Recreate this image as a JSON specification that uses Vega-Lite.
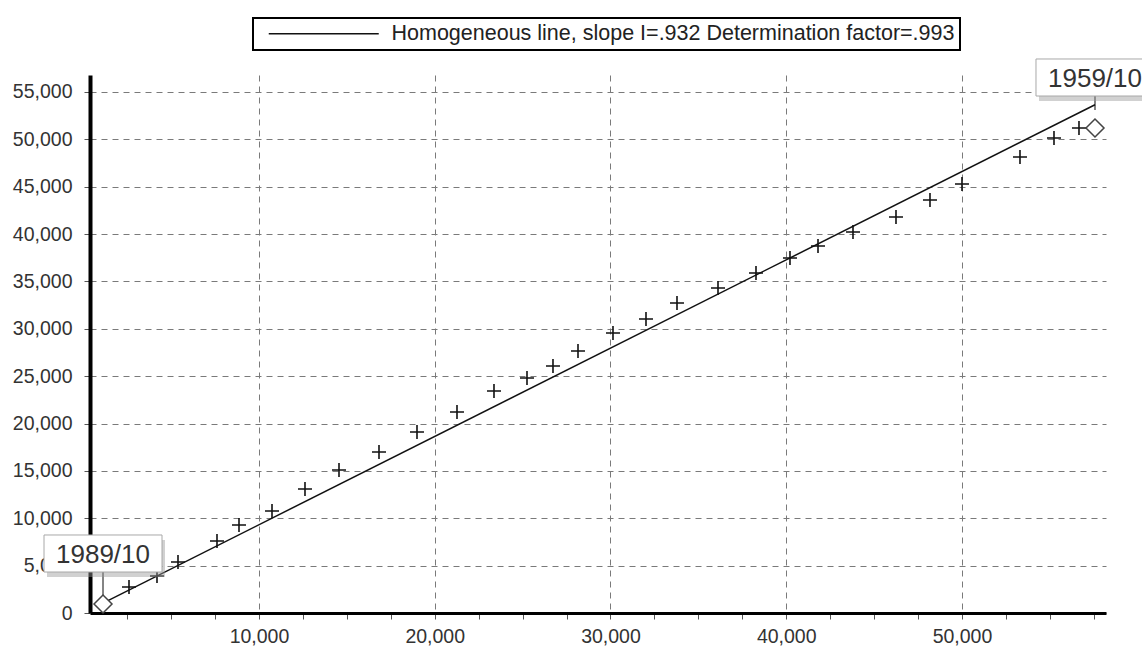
{
  "$schema": "https://vega.github.io/schema/vega-lite/v6.json",
  "width": 1016,
  "height": 538,
  "autosize": {"type": "none"},
  "padding": {"left": 90, "top": 75, "right": 36, "bottom": 44},
  "background": "white",
  "datasets": {
    "pts": [
      {"x": 2603, "y": 2745}, {"x": 4196, "y": 3906}, {"x": 5391, "y": 5384},
      {"x": 7610, "y": 7601}, {"x": 8862, "y": 9290}, {"x": 10740, "y": 10767},
      {"x": 12617, "y": 13090}, {"x": 14552, "y": 15096}, {"x": 16828, "y": 16996},
      {"x": 18990, "y": 19107}, {"x": 21266, "y": 21218}, {"x": 23371, "y": 23435},
      {"x": 25249, "y": 24807}, {"x": 26728, "y": 26074}, {"x": 28151, "y": 27658},
      {"x": 30142, "y": 29558}, {"x": 32020, "y": 31036}, {"x": 33784, "y": 32725},
      {"x": 36117, "y": 34308}, {"x": 38279, "y": 35892}, {"x": 40213, "y": 37475},
      {"x": 41807, "y": 38742}, {"x": 43798, "y": 40220}, {"x": 46245, "y": 41803},
      {"x": 48179, "y": 43598}, {"x": 50000, "y": 45287}, {"x": 53300, "y": 48137},
      {"x": 55235, "y": 50143}, {"x": 56657, "y": 51198}
    ],
    "ends": [
      {"label": "1989/10", "x": 1124, "y": 950, "ly": 6281, "tip": 1689},
      {"label": "1959/10", "x": 57568, "y": 51198, "ly": 56529, "tip": 53098}
    ],
    "line": [
      {"x": 1124, "y": 1048, "series": "Homogeneous line, slope I=.932 Determination factor=.993"},
      {"x": 57568, "y": 53653, "series": "Homogeneous line, slope I=.932 Determination factor=.993"}
    ]
  },
  "encoding": {
    "x": {
      "field": "x", "type": "quantitative",
      "scale": {"domain": [384, 58194], "nice": false, "zero": false},
      "axis": {
        "title": null,
        "values": [2500, 5000, 7500, 10000, 12500, 15000, 17500, 20000, 22500, 25000, 27500, 30000, 32500, 35000, 37500, 40000, 42500, 45000, 47500, 50000, 52500, 55000, 57500],
        "labelExpr": "datum.value % 10000 === 0 ? format(datum.value, ',.0f') : ''",
        "labelOverlap": false,
        "labelFlush": false,
        "grid": true,
        "gridOpacity": {"condition": {"test": "datum.value % 10000 === 0", "value": 1}, "value": 0},
        "domainColor": "#000", "domainWidth": 3,
        "tickColor": "#555", "tickSize": 6,
        "labelPadding": 8
      }
    },
    "y": {
      "field": "y", "type": "quantitative",
      "scale": {"domain": [0, 56793], "nice": false},
      "axis": {
        "title": null,
        "values": [0, 5000, 10000, 15000, 20000, 25000, 30000, 35000, 40000, 45000, 50000, 55000],
        "labelExpr": "format(datum.value, ',.0f')",
        "grid": true,
        "domainColor": "#000", "domainWidth": 4,
        "tickColor": "#555", "tickSize": 6,
        "labelPadding": 12
      }
    }
  },
  "layer": [
    {
      "data": {"name": "ends"},
      "mark": {"type": "rule", "stroke": "#333", "strokeWidth": 1.2},
      "encoding": {"y": {"field": "ly", "type": "quantitative"}, "y2": {"field": "tip"}}
    },
    {
      "data": {"name": "line"},
      "mark": {"type": "line", "strokeWidth": 1.5},
      "encoding": {
        "stroke": {"field": "series", "type": "nominal", "scale": {"range": ["#111"]}, "legend": {"title": null}}
      }
    },
    {
      "data": {"name": "pts"},
      "mark": {"type": "point", "shape": "M-1,0H1M0,-1V1", "size": 196, "filled": false, "stroke": "#111", "strokeWidth": 1.6, "opacity": 1}
    },
    {
      "data": {"name": "ends"},
      "mark": {"type": "point", "shape": "diamond", "size": 324, "filled": true, "fill": "white", "stroke": "#444", "strokeWidth": 1.5, "opacity": 1}
    },
    {
      "data": {"name": "ends"},
      "mark": {"type": "point", "shape": "M-1,-0.3136H1V0.3136H-1Z", "size": 13924, "filled": true, "fill": "#9a9a9a", "opacity": 0.45, "xOffset": 3, "yOffset": 5},
      "encoding": {"y": {"field": "ly", "type": "quantitative"}}
    },
    {
      "data": {"name": "ends"},
      "mark": {"type": "point", "shape": "M-1,-0.3136H1V0.3136H-1Z", "size": 13924, "filled": true, "fill": "white", "stroke": "#a8a8a8", "strokeWidth": 1, "opacity": 1},
      "encoding": {"y": {"field": "ly", "type": "quantitative"}}
    },
    {
      "data": {"name": "ends"},
      "mark": {"type": "text", "font": "Liberation Sans", "fontSize": 26, "fill": "#333", "align": "center", "baseline": "middle", "dy": 1},
      "encoding": {"y": {"field": "ly", "type": "quantitative"}, "text": {"field": "label"}}
    }
  ],
  "config": {
    "view": {"stroke": null},
    "axis": {
      "labelFont": "Liberation Sans", "labelFontSize": 19.5, "labelColor": "#333",
      "gridColor": "#7a7a7a", "gridDash": [6, 5], "gridWidth": 1
    },
    "legend": {
      "orient": "none", "legendX": 163, "legendY": -57,
      "padding": 5, "strokeColor": "#000", "strokeWidth": 2, "fillColor": "white",
      "symbolType": "M-10,0H10", "symbolSize": 121, "symbolStrokeWidth": 1.5,
      "symbolOffset": 55, "labelOffset": 57,
      "labelFont": "Liberation Sans", "labelFontSize": 21.5, "labelColor": "#222", "labelLimit": 1000
    }
  }
}
